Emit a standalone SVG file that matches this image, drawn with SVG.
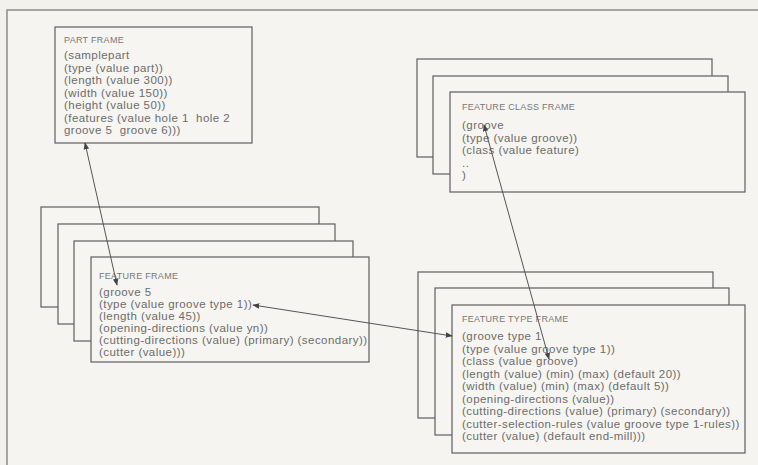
<svg xmlns="http://www.w3.org/2000/svg" width="758" height="465" viewBox="0 0 758 465">
<style>
.bg{fill:#f2f1ec}
.box{fill:#f6f5f1;stroke:#5e5e5e;stroke-width:1.2}
.hd{font-family:"Liberation Sans",Arial,sans-serif;font-size:9px;fill:#777;letter-spacing:0.3px}
.tx{font-family:"Liberation Sans",Arial,sans-serif;font-size:11.5px;fill:#6c6c6c;letter-spacing:0.45px;white-space:pre}
.cn{stroke:#555;stroke-width:1;fill:none}
</style>
<defs>
<marker id="ah" viewBox="0 0 10 10" refX="9" refY="5" markerWidth="7" markerHeight="7" orient="auto-start-reverse" markerUnits="userSpaceOnUse">
<path d="M0,1 L10,5 L0,9 z" fill="#444"/>
</marker>
</defs>
<rect class="bg" x="0" y="0" width="758" height="465"/>
<rect x="7" y="10" width="800" height="500" fill="#f5f4f0" stroke="#8a8a8a" stroke-width="1.5"/>

<g id="part-frame">
<rect class="box" x="55" y="27" width="197" height="116"/>
<text class="hd" x="64" y="43">PART FRAME</text>
<text class="tx" x="64" y="59">(samplepart</text>
<text class="tx" x="64" y="71.5">(type (value part))</text>
<text class="tx" x="64" y="84">(length (value 300))</text>
<text class="tx" x="64" y="96.5">(width (value 150))</text>
<text class="tx" x="64" y="109">(height (value 50))</text>
<text class="tx" x="64" y="121.5">(features (value hole 1  hole 2</text>
<text class="tx" x="64" y="134">groove 5  groove 6)))</text>
</g>

<g id="feature-class-frame">
<rect class="box" x="417" y="59" width="295" height="98"/>
<rect class="box" x="433" y="76" width="295" height="98"/>
<rect class="box" x="450" y="92" width="295" height="100"/>
<text class="hd" x="462" y="110">FEATURE CLASS FRAME</text>
<text class="tx" x="462" y="129">(groove</text>
<text class="tx" x="462" y="141.5">(type (value groove))</text>
<text class="tx" x="462" y="154">(class (value feature)</text>
<text class="tx" x="462" y="166.5">..</text>
<text class="tx" x="462" y="179">)</text>
</g>

<g id="feature-frame">
<rect class="box" x="41" y="207" width="278" height="100"/>
<rect class="box" x="58" y="224" width="277" height="100"/>
<rect class="box" x="74" y="241" width="279" height="100"/>
<rect class="box" x="91" y="257" width="278" height="105"/>
<text class="hd" x="99" y="279">FEATURE FRAME</text>
<text class="tx" x="99" y="296">(groove 5</text>
<text class="tx" x="99" y="308">(type (value groove type 1))</text>
<text class="tx" x="99" y="320">(length (value 45))</text>
<text class="tx" x="99" y="332">(opening-directions (value yn))</text>
<text class="tx" x="99" y="344">(cutting-directions (value) (primary) (secondary))</text>
<text class="tx" x="99" y="356">(cutter (value)))</text>
</g>

<g id="feature-type-frame">
<rect class="box" x="418" y="272" width="295" height="146"/>
<rect class="box" x="435" y="288" width="294" height="147"/>
<rect class="box" x="452" y="305" width="293" height="148"/>
<text class="hd" x="462" y="322">FEATURE TYPE FRAME</text>
<text class="tx" x="462" y="340">(groove type 1</text>
<text class="tx" x="462" y="352.5">(type (value groove type 1))</text>
<text class="tx" x="462" y="365">(class (value groove)</text>
<text class="tx" x="462" y="377.5">(length (value) (min) (max) (default 20))</text>
<text class="tx" x="462" y="390">(width (value) (min) (max) (default 5))</text>
<text class="tx" x="462" y="402.5">(opening-directions (value))</text>
<text class="tx" x="462" y="415">(cutting-directions (value) (primary) (secondary))</text>
<text class="tx" x="462" y="427.5">(cutter-selection-rules (value groove type 1-rules))</text>
<text class="tx" x="462" y="440">(cutter (value) (default end-mill)))</text>
</g>

<g id="connectors">
<line class="cn" x1="85" y1="143" x2="117" y2="285" marker-start="url(#ah)" marker-end="url(#ah)"/>
<line class="cn" x1="253" y1="305" x2="452" y2="336" marker-start="url(#ah)" marker-end="url(#ah)"/>
<line class="cn" x1="484" y1="125" x2="549" y2="359" marker-start="url(#ah)" marker-end="url(#ah)"/>
</g>
</svg>
